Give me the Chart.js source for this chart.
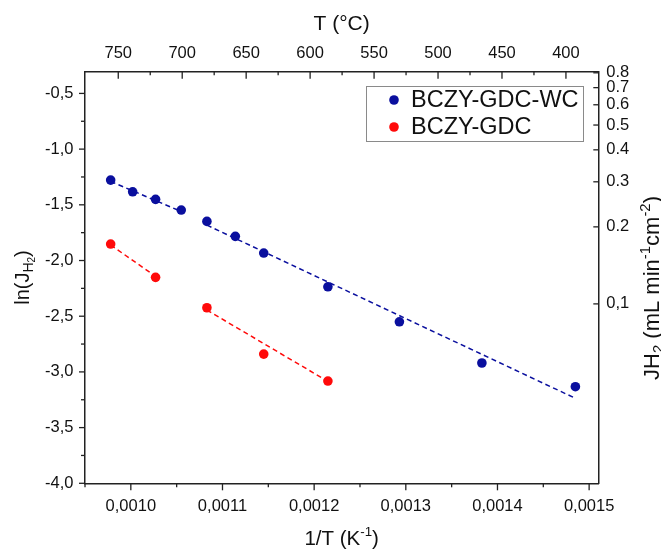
<!DOCTYPE html>
<html>
<head>
<meta charset="utf-8">
<script src="https://cdn.jsdelivr.net/npm/chart.js@4.4.1/dist/chart.umd.min.js"></script>
<style>
  html, body { margin: 0; padding: 0; background: #fff; }
  #wrap { width: 661px; height: 549px; }
</style>
</head>
<body>
<div id="wrap"><canvas id="arrhenius" width="661" height="549"></canvas></div>
<script>
// 1/T (K^-1), measured at 750, 725, 700 ... 400 °C
const invTWC = [0.000978, 0.001002, 0.001027, 0.001055, 0.001083, 0.001114, 0.001145, 0.001215, 0.001293, 0.001383, 0.001485];
const lnJWC = [-1.278, -1.383, -1.451, -1.547, -1.649, -1.783, -1.933, -2.236, -2.550, -2.920, -3.133];

const invTGDC = [0.000978, 0.001027, 0.001083, 0.001145, 0.001215];
const lnJGDC = [-1.852, -2.151, -2.424, -2.840, -3.082];

// dashed fit segments, end points
const fitWCX = [[0.000978, 0.001055], [0.001083, 0.001485]];
const fitWCY = [[-1.29, -1.56], [-1.682, -3.237]];
const fitGDCX = [[0.000978, 0.001027], [0.001083, 0.001215]];
const fitGDCY = [[-1.861, -2.142], [-2.445, -3.085]];

// axis ticks
const xTicks = [0.00095, 0.0010, 0.00105, 0.0011, 0.00115, 0.0012, 0.00125, 0.0013, 0.00135, 0.0014, 0.00145, 0.0015];
const yTicks = [-4.0, -3.75, -3.5, -3.25, -3.0, -2.75, -2.5, -2.25, -2.0, -1.75, -1.5, -1.25, -1.0, -0.75, -0.5];
const tempTicks = [750, 725, 700, 675, 650, 625, 600, 575, 550, 525, 500, 475, 450, 425, 400];
const fluxTicks = [0.1, 0.2, 0.3, 0.4, 0.5, 0.6, 0.7, 0.8];
const fluxLabels = ['0,1', '0.2', '0.3', '0.4', '0.5', '0.6', '0.7', '0.8'];

const BLUE = '#0a0f9e';
const RED = '#ff0a0a';
const AXIS = '#222';
const FONT = '"Liberation Sans", Arial, sans-serif';

function pts(xs, ys) {
    return xs.map((x, i) => ({ x: x, y: ys[i] }));
}

function fitDataset(xs, ys, color) {
    return {
        type: 'line',
        data: pts(xs, ys),
        borderColor: color,
        borderWidth: 1.5,
        borderDash: [5, 3.5],
        pointRadius: 0,
        fill: false,
        xAxisID: 'x',
        yAxisID: 'y'
    };
}

const isMajorX = v => Math.abs(v * 10000 - Math.round(v * 10000)) < 1e-6;
const isMajorY = v => Math.abs(v * 2 - Math.round(v * 2)) < 1e-6;

// tick marks: bottom/left point outward, top/right point inward
const tickMarks = {
    id: 'tickMarks',
    afterDraw(chart) {
        const { ctx, chartArea: a, scales } = chart;
        ctx.save();
        ctx.strokeStyle = AXIS;
        ctx.lineWidth = 1.3;
        const seg = (x1, y1, x2, y2) => {
            ctx.beginPath(); ctx.moveTo(x1, y1); ctx.lineTo(x2, y2); ctx.stroke();
        };
        scales.x.ticks.forEach(t => {
            const p = scales.x.getPixelForValue(t.value);
            seg(p, a.bottom, p, a.bottom + (t.label ? 7 : 4));
        });
        scales.y.ticks.forEach(t => {
            const p = scales.y.getPixelForValue(t.value);
            seg(a.left, p, a.left - (t.label ? 6 : 4), p);
        });
        scales.xT.ticks.forEach(t => {
            const p = scales.xT.getPixelForValue(t.value);
            seg(p, a.top, p, a.top + (t.label ? 7 : 3.5));
        });
        scales.y2.ticks.forEach(t => {
            const p = scales.y2.getPixelForValue(t.value);
            seg(a.right, p, a.right - 5, p);
        });
        ctx.restore();
    }
};

// rich text with sub/superscripts, centred on the origin
function richText(ctx, parts, size) {
    let w = 0;
    parts.forEach(p => {
        const s = size * (p.k || 1);
        ctx.font = s + 'px ' + FONT;
        p.w = ctx.measureText(p.t).width;
        p.s = s;
        w += p.w;
    });
    let x = -w / 2;
    parts.forEach(p => {
        ctx.font = p.s + 'px ' + FONT;
        ctx.fillText(p.t, x, (p.dy || 0) * size);
        x += p.w;
    });
}

const axisTitles = {
    id: 'axisTitles',
    afterDraw(chart) {
        const { ctx, chartArea: a } = chart;
        const cx = (a.left + a.right) / 2;
        const cy = (a.top + a.bottom) / 2;
        ctx.save();
        ctx.fillStyle = '#111';
        ctx.textBaseline = 'alphabetic';
        ctx.textAlign = 'left';

        ctx.save(); ctx.translate(cx, 30);
        richText(ctx, [{ t: 'T (°C)' }], 21);
        ctx.restore();

        ctx.save(); ctx.translate(cx, 545);
        richText(ctx, [{ t: '1/T (K' }, { t: '-1', k: 0.65, dy: -0.42 }, { t: ')' }], 20.5);
        ctx.restore();

        ctx.save(); ctx.translate(29, cy); ctx.rotate(-Math.PI / 2);
        richText(ctx, [{ t: 'ln(J' }, { t: 'H', k: 0.7, dy: 0.22 }, { t: '2', k: 0.5, dy: 0.3 }, { t: ')' }], 20);
        ctx.restore();

        ctx.save(); ctx.translate(659, 288); ctx.rotate(-Math.PI / 2);
        richText(ctx, [
            { t: 'JH' }, { t: '2', k: 0.68, dy: 0.2 }, { t: ' (mL min' },
            { t: '-1', k: 0.68, dy: -0.42 }, { t: 'cm' }, { t: '-2', k: 0.68, dy: -0.42 }, { t: ')' }
        ], 22);
        ctx.restore();

        ctx.restore();
    }
};

const boxLegend = {
    id: 'boxLegend',
    afterDraw(chart) {
        const { ctx } = chart;
        const items = chart.data.datasets.filter(d => d.label);
        const left = 366, top = 86, width = 217, rowH = 27;
        ctx.save();
        ctx.fillStyle = '#fff';
        ctx.fillRect(left, top, width, rowH * items.length + 1);
        ctx.strokeStyle = '#8a8a8a';
        ctx.lineWidth = 1;
        ctx.strokeRect(left + 0.5, top + 0.5, width, rowH * items.length + 1);
        ctx.font = '23.5px ' + FONT;
        ctx.textBaseline = 'middle';
        items.forEach((d, i) => {
            const y = top + 14 + i * rowH;
            ctx.fillStyle = d.backgroundColor;
            ctx.beginPath(); ctx.arc(394, y, 4.8, 0, Math.PI * 2); ctx.fill();
            ctx.fillStyle = '#111';
            ctx.fillText(d.label, 411, y + 1);
        });
        ctx.restore();
    }
};

const tickFont = { family: FONT, size: 16.5 };

new Chart(document.getElementById('arrhenius'), {
    type: 'scatter',
    data: {
        datasets: [
            {
                label: 'BCZY-GDC-WC',
                data: pts(invTWC, lnJWC),
                backgroundColor: BLUE,
                borderColor: BLUE,
                pointRadius: 4.8,
                pointBorderWidth: 0,
                xAxisID: 'x',
                yAxisID: 'y'
            },
            {
                label: 'BCZY-GDC',
                data: pts(invTGDC, lnJGDC),
                backgroundColor: RED,
                borderColor: RED,
                pointRadius: 4.8,
                pointBorderWidth: 0,
                xAxisID: 'x',
                yAxisID: 'y'
            },
            fitDataset(fitWCX[0], fitWCY[0], BLUE),
            fitDataset(fitWCX[1], fitWCY[1], BLUE),
            fitDataset(fitGDCX[0], fitGDCY[0], RED),
            fitDataset(fitGDCX[1], fitGDCY[1], RED)
        ]
    },
    options: {
        responsive: false,
        animation: false,
        devicePixelRatio: 1,
        layout: { padding: 0 },
        plugins: {
            legend: { display: false },
            tooltip: { enabled: false }
        },
        scales: {
            x: {
                type: 'linear',
                position: 'bottom',
                min: 0.00095,
                max: 0.00151,
                afterBuildTicks: s => { s.ticks = xTicks.map(v => ({ value: v })); },
                afterFit: s => { s.height = 65.7; },
                grid: { display: false, drawTicks: false },
                border: { display: true, color: AXIS, width: 1.5 },
                ticks: {
                    autoSkip: false, maxRotation: 0, padding: 13,
                    color: '#111', font: tickFont,
                    callback: v => isMajorX(v) ? v.toFixed(4).replace('.', ',') : ''
                }
            },
            xT: {
                type: 'linear',
                position: 'top',
                reverse: true,
                min: 374.7,
                max: 776,
                afterBuildTicks: s => { s.ticks = tempTicks.map(v => ({ value: v })); },
                afterFit: s => { s.height = 71.7; },
                grid: { display: false, drawTicks: false },
                border: { display: true, color: AXIS, width: 1.5 },
                ticks: {
                    autoSkip: false, maxRotation: 0, padding: 8,
                    color: '#111', font: tickFont,
                    callback: v => v % 50 === 0 ? String(v) : ''
                }
            },
            y: {
                type: 'linear',
                position: 'left',
                min: -4.0,
                max: -0.305,
                afterBuildTicks: s => { s.ticks = yTicks.map(v => ({ value: v })); },
                afterFit: s => { s.width = 85; },
                grid: { display: false, drawTicks: false },
                border: { display: true, color: AXIS, width: 1.5 },
                ticks: {
                    autoSkip: false, padding: 11.5,
                    color: '#111', font: tickFont,
                    callback: v => isMajorY(v) ? v.toFixed(1).replace('.', ',') : ''
                }
            },
            y2: {
                type: 'logarithmic',
                position: 'right',
                min: 0.0199,
                max: 0.808,
                afterBuildTicks: s => { s.ticks = fluxTicks.map(v => ({ value: v })); },
                afterFit: s => { s.width = 62.7; },
                grid: { display: false, drawTicks: false },
                border: { display: true, color: AXIS, width: 1.5 },
                ticks: {
                    autoSkip: false, padding: 8,
                    color: '#111', font: tickFont,
                    callback: (v, i) => fluxLabels[i]
                }
            }
        }
    },
    plugins: [tickMarks, axisTitles, boxLegend]
});
</script>
</body>
</html>
